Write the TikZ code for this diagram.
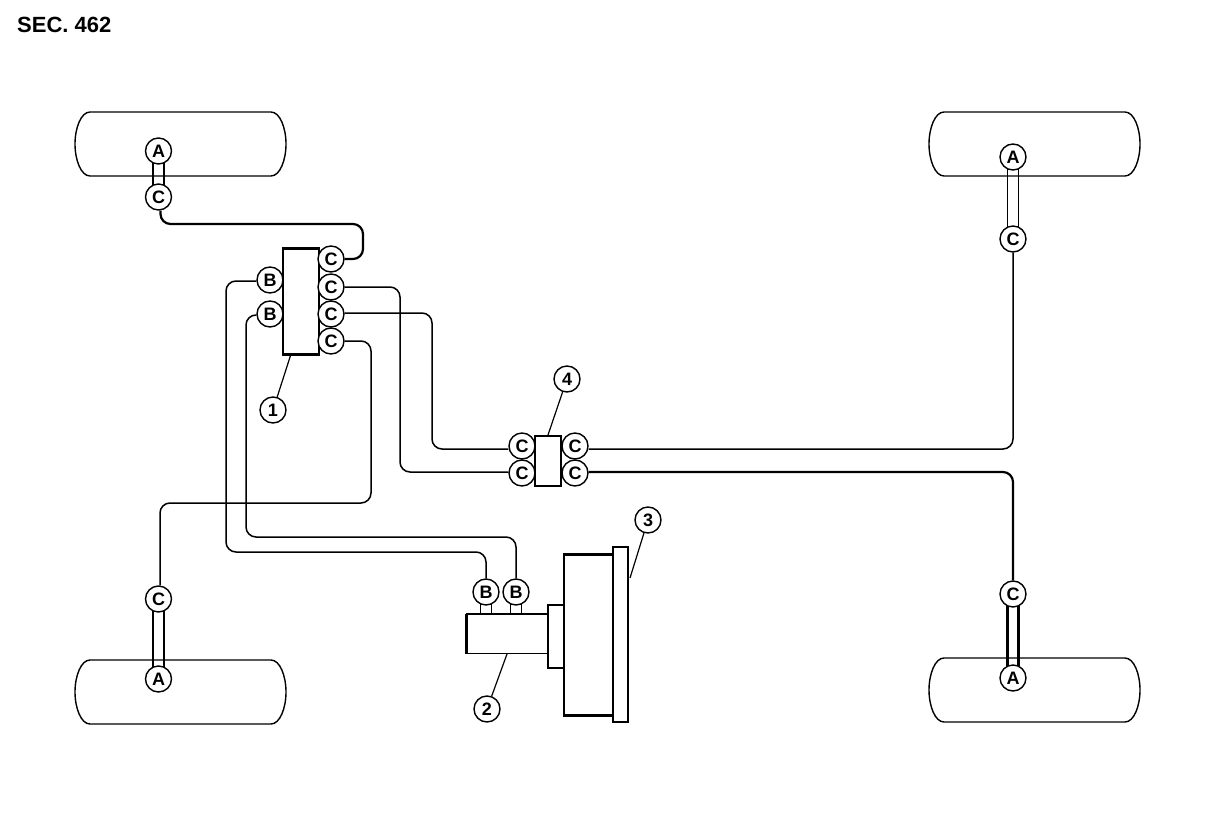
\documentclass[tikz,border=0pt]{standalone}
\usepackage{fontspec}
\setmainfont{Liberation Sans}
\usetikzlibrary{backgrounds}
\tikzset{
  tag/.style={circle, draw, line width=1.4pt, fill=white, minimum size=26pt, inner sep=0pt, font=\fontsize{18}{18}\selectfont\bfseries},
  pipe/.style={line width=1.5pt, rounded corners=10pt},
  pipeB/.style={line width=2.2pt, rounded corners=10pt},
  box/.style={draw, line width=1.2pt, fill=white, inner sep=0pt},
  edge/.style={line width=2.4pt},
  leader/.style={line width=1.2pt}
}
\newcommand{\tyre}[2]{ \draw[line width=1.4pt] (#1+15,#2) -- (#1+196,#2) .. controls (#1+205,#2) and (#1+211,#2+16) .. (#1+211,#2+32) .. controls (#1+211,#2+48) and (#1+205,#2+64) .. (#1+196,#2+64) -- (#1+15,#2+64) .. controls (#1+6,#2+64) and (#1,#2+48) .. (#1,#2+32) .. controls (#1,#2+16) and (#1+6,#2) .. (#1+15,#2) -- cycle;}
\newcommand{\tube}[3]{ \draw[line width=#3] ([xshift=-5.5pt]#1.center) -- ([xshift=-5.5pt]#2.center); \draw[line width=#3] ([xshift=5.5pt]#1.center) -- ([xshift=5.5pt]#2.center);}
\begin{document}
\begin{tikzpicture}[x=1pt,y=-1pt]
\useasboundingbox (0,0) rectangle (1216,822);
\node[anchor=west, inner sep=0pt, font=\fontsize{22}{22}\selectfont\bfseries] (title) at (17,25) {SEC. 462};
%
\tyre{75}{112}
\tyre{929}{112}
\tyre{75}{660}
\tyre{929}{658}
%
\node[box, minimum width=36pt, minimum height=105pt] (valve) at (301,301.5) {};
\node[box, minimum width=26pt, minimum height=50pt] (conn) at (548,461) {};
\draw[edge] (valve.north west) -- (valve.north east);
\draw[edge] (valve.south west) -- (valve.south east);
%
\node[box, minimum width=81pt, minimum height=39pt] (cyl) at (507.5,634) {};
\node[box, minimum width=16pt, minimum height=63pt] (flange) at (556,636.5) {};
\node[box, line width=2.2pt, minimum width=50pt, minimum height=161pt] (servo) at (589,635) {};
\node[box, line width=1.8pt, minimum width=15pt, minimum height=175pt] (plate) at (620.5,634.5) {};
\draw[edge] (cyl.north west) -- (cyl.south west);
\draw[edge] (cyl.north west) -- (cyl.north east);
%
\node[tag] (aFL) at (158.5,151) {A};
\node[tag] (cFL) at (158.5,197) {C};
\node[tag] (aFR) at (1013,157) {A};
\node[tag] (cFR) at (1013,239) {C};
\node[tag] (aRL) at (158.5,679) {A};
\node[tag] (cRL) at (158.5,599) {C};
\node[tag] (aRR) at (1013,678) {A};
\node[tag] (cRR) at (1013,594) {C};
%
\node[tag] (bA) at (270,280) {B};
\node[tag] (bB) at (270,314) {B};
\node[tag] (cA) at (331,259) {C};
\node[tag] (cB) at (331,287) {C};
\node[tag] (cC) at (331,314) {C};
\node[tag] (cD) at (331,341) {C};
%
\node[tag] (cE) at (522,446) {C};
\node[tag] (cF) at (522,473) {C};
\node[tag] (cG) at (575,446) {C};
\node[tag] (cH) at (575,473) {C};
%
\node[tag] (bC) at (486,592) {B};
\node[tag] (bD) at (516,592) {B};
\coordinate (stubC) at (bC |- cyl.north);
\coordinate (stubD) at (bD |- cyl.north);
%
\node[tag] (one) at (273,410) {1};
\node[tag] (two) at (487,709) {2};
\node[tag] (three) at (648,520) {3};
\node[tag] (four) at (567,379) {4};
%
\begin{scope}[on background layer]
\tube{aFL}{cFL}{1.3pt}
\tube{aFR}{cFR}{1.3pt}
\tube{aRL}{cRL}{1.3pt}
\tube{aRR}{cRR}{2.2pt}
\tube{bC}{stubC}{1.3pt}
\tube{bD}{stubD}{1.3pt}
\end{scope}
%
\draw[pipeB] ([xshift=2pt]cFL.south) -- (160.5,224) -- (363,224) -- (363,259) -- (cA.east);
\draw[pipe] (cB.east) -- (400,287) -- (400,472) -- ([yshift=1pt]cF.west);
\draw[pipe] ([yshift=1pt]cC.east) -- (432,313) -- (432,449) -- ([yshift=-3pt]cE.west);
\draw[pipe] (cD.east) -- (371,341) -- (371,503) -- (160,503) -- ([xshift=1.5pt]cRL.north);
\draw[pipe] ([yshift=-1pt]bA.west) -- (226,281) -- (226,552) -- (486,552) -- (bC.north);
\draw[pipe] ([yshift=-1pt]bB.west) -- (246,315) -- (246,537) -- (516,537) -- (bD.north);
\draw[pipe] ([yshift=-3pt]cG.east) -- (1013,449) -- (cFR.south);
\draw[pipeB] ([yshift=1pt]cH.east) -- (1013,472) -- (cRR.north);
%
\draw[leader] (one) -- (291,354);
\draw[leader] (two) -- (507,654);
\draw[leader] (three) -- (630,578);
\draw[leader] (four) -- (548,435);
\end{tikzpicture}
\end{document}
